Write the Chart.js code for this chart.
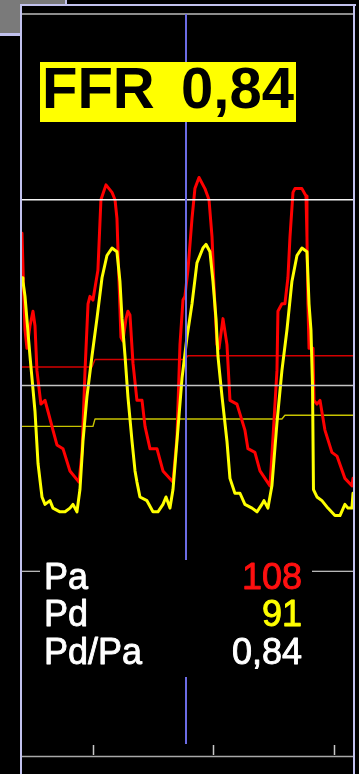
<!DOCTYPE html>
<html>
<head>
<meta charset="utf-8">
<script src="https://cdn.jsdelivr.net/npm/chart.js@4/dist/chart.umd.min.js"></script>
<style>
  html, body { margin: 0; padding: 0; background: #000; overflow: hidden; }
  canvas { display: block; }
</style>
</head>
<body>
<canvas id="ffr" width="359" height="774"></canvas>
<script>
// Aortic pressure (Pa) trace: time in seconds, pressure in mmHg
const paTimes = [
  0.411, 0.425, 0.436, 0.452, 0.477, 0.502, 0.519, 0.535, 0.568, 0.602,
  0.627, 0.668, 0.701, 0.751, 0.809, 0.884, 0.909, 0.934, 0.959, 0.975,
  1.000, 1.041, 1.066, 1.108, 1.158, 1.183, 1.199, 1.216, 1.232, 1.249,
  1.274, 1.290, 1.307, 1.332, 1.365, 1.407, 1.432, 1.473, 1.531, 1.581,
  1.664, 1.697, 1.722, 1.747, 1.763, 1.788, 1.822, 1.846, 1.880, 1.929,
  1.963, 1.988, 2.004, 2.029, 2.046, 2.079, 2.112, 2.137, 2.195, 2.261,
  2.286, 2.344, 2.386, 2.469, 2.494, 2.527, 2.535, 2.568, 2.593, 2.618,
  2.635, 2.660, 2.676, 2.734, 2.768, 2.776, 2.784, 2.793, 2.826, 2.834,
  2.859, 2.884, 2.925, 2.983, 3.025, 3.091, 3.149, 3.158
];
const paPressure = [
  141, 125, 115, 110, 116, 120, 116, 104, 95, 96,
  93, 88, 84, 83, 77, 74, 82, 104, 122, 124,
  123, 131, 150, 154, 152, 150, 145, 128, 113, 112,
  118, 120, 119, 106, 96, 96, 89, 83, 83, 77,
  74, 86, 111, 123, 124, 131, 145, 153, 156, 153,
  150, 140, 127, 111, 110, 118, 111, 96, 95, 88,
  83, 82, 77, 73, 86, 104, 120, 122, 122, 129,
  140, 152, 153, 153, 151, 140, 122, 110, 110, 96,
  95, 96, 88, 82, 81, 75, 73, 75
];

// Distal pressure (Pd) trace
const pdTimes = [
  0.411, 0.419, 0.436, 0.477, 0.519, 0.544, 0.577, 0.602, 0.643, 0.668,
  0.726, 0.768, 0.809, 0.834, 0.867, 0.892, 0.917, 0.950, 0.992, 1.033,
  1.075, 1.116, 1.158, 1.199, 1.224, 1.241, 1.266, 1.290, 1.324, 1.349,
  1.365, 1.390, 1.448, 1.498, 1.539, 1.581, 1.606, 1.639, 1.664, 1.697,
  1.739, 1.780, 1.822, 1.863, 1.913, 1.938, 1.971, 1.996, 2.021, 2.037,
  2.071, 2.112, 2.137, 2.178, 2.220, 2.261, 2.320, 2.361, 2.402, 2.419,
  2.452, 2.485, 2.527, 2.568, 2.610, 2.651, 2.693, 2.734, 2.776, 2.793,
  2.809, 2.822, 2.830, 2.859, 2.900, 2.950, 3.008, 3.050, 3.091, 3.116,
  3.149, 3.158
];
const pdPressure = [
  129, 128, 124, 108, 93, 79, 70, 68, 69, 67,
  66, 66, 67, 68, 66, 72, 85, 97, 108, 118,
  129, 135, 137, 136, 128, 118, 108, 97, 85, 77,
  74, 70, 69, 66, 66, 68, 70, 67, 72, 85,
  102, 113, 122, 133, 137, 138, 136, 128, 118, 108,
  97, 85, 75, 71, 71, 68, 67, 66, 68, 69,
  67, 73, 90, 104, 115, 128, 135, 137, 136, 122,
  115, 100, 72, 70, 69, 67, 65, 65, 68, 67,
  67, 71
];

// Beat-averaged mean pressures
const meanPaTimes = [0.411, 0.992, 1.017, 1.763, 1.788, 3.158];
const meanPa      = [105, 105, 107, 107, 108, 108];
const meanPdTimes = [0.411, 1.000, 1.017, 2.568, 2.593, 3.158];
const meanPd      = [89, 89, 91, 91, 92, 92];

// Axis setup
const timeTicks = [1, 2, 3];           // one mark per second
const gridLevels = [50, 100, 150];     // mmHg reference lines
const gridColors = ['#f4f4f4', '#c4c4c4', '#f4f4f4'];
const cursorTime = 1.772;

// Readout at the cursor
const readoutPa = 108;
const readoutPd = 91;
const ratioText = (readoutPd / readoutPa).toFixed(2).replace('.', ',');
const readoutLabels = ['Pa', 'Pd', 'Pd/Pa'];
const readoutValues = [String(readoutPa), String(readoutPd), ratioText];
const readoutColors = ['#ff1010', '#ffff00', '#ffffff'];

const toPoints = (ts, vs) => ts.map((t, i) => ({ x: t, y: vs[i] }));

const FONT = '"Liberation Sans", Arial, sans-serif';

// draws text with a slightly heavier stroke than the regular face
function heavyText(ctx, text, x, y, color) {
  ctx.fillStyle = color;
  ctx.strokeStyle = color;
  ctx.lineWidth = 0.9;
  ctx.lineJoin = 'round';
  ctx.fillText(text, x, y);
  ctx.strokeText(text, x, y);
}

const monitorPlugin = {
  id: 'monitor',
  beforeDraw(chart) {
    const ctx = chart.ctx;
    ctx.save();
    ctx.fillStyle = '#000';
    ctx.fillRect(0, 0, chart.width, chart.height);
    // window chrome in the corner
    ctx.fillStyle = '#7a7a7a';
    ctx.fillRect(0, 0, 66, 4);
    ctx.fillRect(0, 0, 20, 34);
    ctx.fillStyle = '#c2c2ee';
    ctx.fillRect(65, 0, 2, 5);
    ctx.fillRect(0, 33, 20, 3);
    // panel frame
    ctx.fillRect(20, 4, 336, 2);
    ctx.fillRect(20, 4, 2, chart.height - 4);
    ctx.fillRect(353, 4, 2, chart.height - 4);
    // header rule
    const a = chart.chartArea;
    ctx.fillStyle = '#8c8c8c';
    ctx.fillRect(a.left, a.top - 1, a.right - a.left, 2);
    ctx.restore();
  },
  afterDatasetsDraw(chart) {
    const ctx = chart.ctx;
    const a = chart.chartArea;
    const xs = chart.scales.x;
    const ys = chart.scales.y;
    ctx.save();

    // pressure reference lines
    gridLevels.forEach((lvl, i) => {
      const y = ys.getPixelForValue(lvl);
      ctx.strokeStyle = gridColors[i];
      ctx.lineWidth = lvl === 50 ? 1.2 : 1.6;
      ctx.beginPath();
      ctx.moveTo(a.left, y);
      ctx.lineTo(a.right, y);
      ctx.stroke();
    });

    // baseline (0 mmHg) and time marks
    const y0 = ys.getPixelForValue(0);
    ctx.strokeStyle = '#a8a8a8';
    ctx.lineWidth = 1.5;
    ctx.beginPath();
    ctx.moveTo(a.left, y0 - 0.5);
    ctx.lineTo(a.right, y0 - 0.5);
    ctx.stroke();
    ctx.strokeStyle = '#c8c8c8';
    ctx.lineWidth = 1.5;
    timeTicks.forEach(t => {
      const x = Math.round(xs.getPixelForValue(t)) + 0.5;
      ctx.beginPath();
      ctx.moveTo(x, y0 - 12);
      ctx.lineTo(x, y0 - 2);
      ctx.stroke();
    });

    // cursor
    const cx = Math.round(xs.getPixelForValue(cursorTime));
    ctx.strokeStyle = '#6c6ce4';
    ctx.lineWidth = 2;
    ctx.beginPath();
    ctx.moveTo(cx, a.top);
    ctx.lineTo(cx, y0 - 13);
    ctx.stroke();

    // FFR badge
    ctx.fillStyle = '#ffff00';
    ctx.fillRect(40, 62, 256, 60);
    ctx.fillStyle = '#000';
    ctx.font = 'bold 58px ' + FONT;
    ctx.textBaseline = 'alphabetic';
    ctx.textAlign = 'left';
    ctx.fillText('FFR', 42, 108);
    ctx.textAlign = 'right';
    ctx.fillText(ratioText, 294, 108);

    // readout panel
    ctx.fillStyle = '#000';
    ctx.fillRect(40, 560, 272, 117);
    ctx.font = '36px ' + FONT;
    const baselines = [589, 626, 664];
    readoutLabels.forEach((lab, i) => {
      ctx.textAlign = 'left';
      heavyText(ctx, lab, 44, baselines[i], '#ffffff');
      ctx.textAlign = 'right';
      heavyText(ctx, readoutValues[i], 302, baselines[i], readoutColors[i]);
    });

    ctx.restore();
  }
};

new Chart(document.getElementById('ffr'), {
  type: 'line',
  data: {
    datasets: [
      { label: 'Pd', data: toPoints(pdTimes, pdPressure), borderColor: '#ffff00', borderWidth: 3 },
      { label: 'Pa', data: toPoints(paTimes, paPressure), borderColor: '#ff0000', borderWidth: 3 },
      { label: 'Pd mean', data: toPoints(meanPdTimes, meanPd), borderColor: '#c8c400', borderWidth: 1.4 },
      { label: 'Pa mean', data: toPoints(meanPaTimes, meanPa), borderColor: '#d40000', borderWidth: 1.4 }
    ]
  },
  options: {
    responsive: false,
    animation: false,
    events: [],
    devicePixelRatio: 1,
    layout: { padding: { left: 22, right: 6, top: 14, bottom: 17 } },
    elements: {
      point: { radius: 0 },
      line: { tension: 0, borderJoinStyle: 'round', borderCapStyle: 'round', fill: false }
    },
    scales: {
      x: { type: 'linear', min: 0.411, max: 3.158, display: false },
      y: { type: 'linear', min: 0, max: 200, display: false }
    },
    plugins: {
      legend: { display: false },
      tooltip: { enabled: false }
    }
  },
  plugins: [monitorPlugin]
});
</script>
</body>
</html>
